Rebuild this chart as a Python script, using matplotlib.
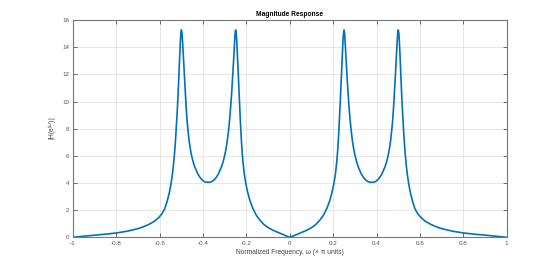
import matplotlib
matplotlib.use('Agg')
import matplotlib.pyplot as plt

plt.rcParams['font.family'] = ['Liberation Sans', 'DejaVu Sans']

# |H|, negative frequencies (x pi units)
freq_neg = [-1.000, -0.950, -0.900, -0.850, -0.800, -0.750, -0.700, -0.675, -0.650, -0.625,
            -0.605, -0.590, -0.577, -0.565, -0.555, -0.548, -0.542, -0.537, -0.532, -0.528,
            -0.524, -0.520, -0.5165, -0.513, -0.510, -0.5075, -0.505, -0.5025, -0.500, -0.4975,
            -0.4948, -0.492, -0.489, -0.4855, -0.482, -0.478, -0.4735, -0.469, -0.464, -0.459,
            -0.453, -0.446, -0.439, -0.431, -0.424, -0.416, -0.409, -0.402, -0.394, -0.386,
            -0.377, -0.368, -0.360, -0.352, -0.345, -0.338, -0.330, -0.323, -0.315, -0.308,
            -0.301, -0.295, -0.2885, -0.2825, -0.277, -0.2725, -0.2685, -0.2645, -0.261, -0.258,
            -0.255, -0.2525, -0.250, -0.2475, -0.245, -0.2425, -0.2395, -0.236, -0.2325, -0.229,
            -0.2255, -0.221, -0.216, -0.210, -0.203, -0.195, -0.185, -0.170, -0.155, -0.140,
            -0.120, -0.100, -0.075, -0.050, -0.025]
mag_neg = [0.00, 0.08, 0.16, 0.23, 0.32, 0.45, 0.64, 0.78, 0.95, 1.18,
           1.45, 1.73, 2.10, 2.70, 3.35, 3.95, 4.60, 5.30, 6.15, 7.00,
           8.00, 9.10, 10.2, 11.5, 12.6, 13.6, 14.4, 15.05, 15.27, 15.05,
           14.4, 13.6, 12.7, 11.6, 10.6, 9.50, 8.50, 7.75, 7.05, 6.50,
           6.00, 5.55, 5.20, 4.90, 4.65, 4.45, 4.30, 4.19, 4.10, 4.06,
           4.05, 4.06, 4.10, 4.19, 4.30, 4.45, 4.65, 4.90, 5.20, 5.55,
           6.00, 6.45, 7.10, 7.90, 8.80, 9.70, 10.6, 11.6, 12.6, 13.5,
           14.4, 15.05, 15.27, 15.05, 14.5, 13.7, 12.6, 11.3, 10.0, 8.80,
           7.70, 6.50, 5.50, 4.65, 3.95, 3.35, 2.75, 2.10, 1.63, 1.30,
           0.95, 0.71, 0.50, 0.33, 0.16]

# positive frequencies
freq_pos = [0.000, 0.025, 0.050, 0.075, 0.100, 0.120, 0.140, 0.155, 0.170, 0.185,
            0.195, 0.203, 0.210, 0.216, 0.221, 0.2255, 0.229, 0.2325, 0.236, 0.2395,
            0.2425, 0.245, 0.2475, 0.250, 0.2525, 0.255, 0.258, 0.261, 0.2645, 0.2685,
            0.2725, 0.277, 0.2825, 0.2885, 0.295, 0.301, 0.308, 0.315, 0.323, 0.330,
            0.338, 0.345, 0.352, 0.360, 0.368, 0.377, 0.386, 0.394, 0.402, 0.409,
            0.416, 0.424, 0.431, 0.439, 0.446, 0.453, 0.459, 0.464, 0.469, 0.4735,
            0.478, 0.482, 0.4855, 0.489, 0.492, 0.4948, 0.4975, 0.500, 0.5025, 0.505,
            0.5075, 0.510, 0.513, 0.5165, 0.520, 0.524, 0.528, 0.532, 0.537, 0.542,
            0.548, 0.555, 0.565, 0.577, 0.590, 0.605, 0.625, 0.650, 0.675, 0.700,
            0.750, 0.800, 0.850, 0.900, 0.950, 1.000]
mag_pos = [0.00, 0.16, 0.33, 0.50, 0.71, 0.95, 1.30, 1.63, 2.10, 2.75,
           3.35, 3.95, 4.65, 5.50, 6.50, 7.70, 8.80, 10.0, 11.3, 12.6,
           13.7, 14.5, 15.05, 15.27, 15.05, 14.4, 13.5, 12.6, 11.6, 10.6,
           9.70, 8.80, 7.90, 7.10, 6.45, 6.00, 5.55, 5.20, 4.90, 4.65,
           4.45, 4.30, 4.19, 4.10, 4.06, 4.05, 4.06, 4.10, 4.19, 4.30,
           4.45, 4.65, 4.90, 5.20, 5.55, 6.00, 6.50, 7.05, 7.75, 8.50,
           9.50, 10.6, 11.6, 12.7, 13.6, 14.4, 15.05, 15.27, 15.05, 14.4,
           13.6, 12.6, 11.5, 10.2, 9.10, 8.00, 7.00, 6.15, 5.30, 4.60,
           3.95, 3.35, 2.70, 2.10, 1.73, 1.45, 1.18, 0.95, 0.78, 0.64,
           0.45, 0.32, 0.23, 0.16, 0.08, 0.00]

freq = freq_neg + freq_pos
mag = mag_neg + mag_pos

xticks = [-1, -0.8, -0.6, -0.4, -0.2, 0, 0.2, 0.4, 0.6, 0.8, 1]
xticklabels = ['-1', '-0.8', '-0.6', '-0.4', '-0.2', '0', '0.2', '0.4', '0.6', '0.8', '1']
yticks = [0, 2, 4, 6, 8, 10, 12, 14, 16]

fig = plt.figure(figsize=(5.6, 2.67), dpi=100)
ax = fig.add_axes([0.1304, 0.1112, 0.7744, 0.8138])

ax.plot(freq, mag, color='#0072BD', linewidth=1.2)

ax.set_xlim(-1, 1)
ax.set_ylim(0, 16)
ax.set_xticks(xticks)
ax.set_xticklabels(xticklabels)
ax.set_yticks(yticks)
ax.grid(True, color='#e3e3e3', linewidth=0.6)
ax.set_axisbelow(True)

ax.tick_params(direction='in', length=3, width=0.6, colors='#555555',
               labelsize=4.5, top=True, right=True, pad=2.5)
for s in ax.spines.values():
    s.set_color('#777777')
    s.set_linewidth(0.8)

ax.set_title('Magnitude Response', fontsize=4.8, fontweight='bold', pad=3)
ax.set_xlabel('Normalized Frequency, \u03c9 (\u00d7 \u03c0 units)', fontsize=4.8,
              color='#444444', labelpad=2)
ax.set_ylabel('|H(e$^{j\u03c9}$)|', fontsize=4.8, color='#444444', labelpad=2)

fig.savefig('out.png', dpi=100)
